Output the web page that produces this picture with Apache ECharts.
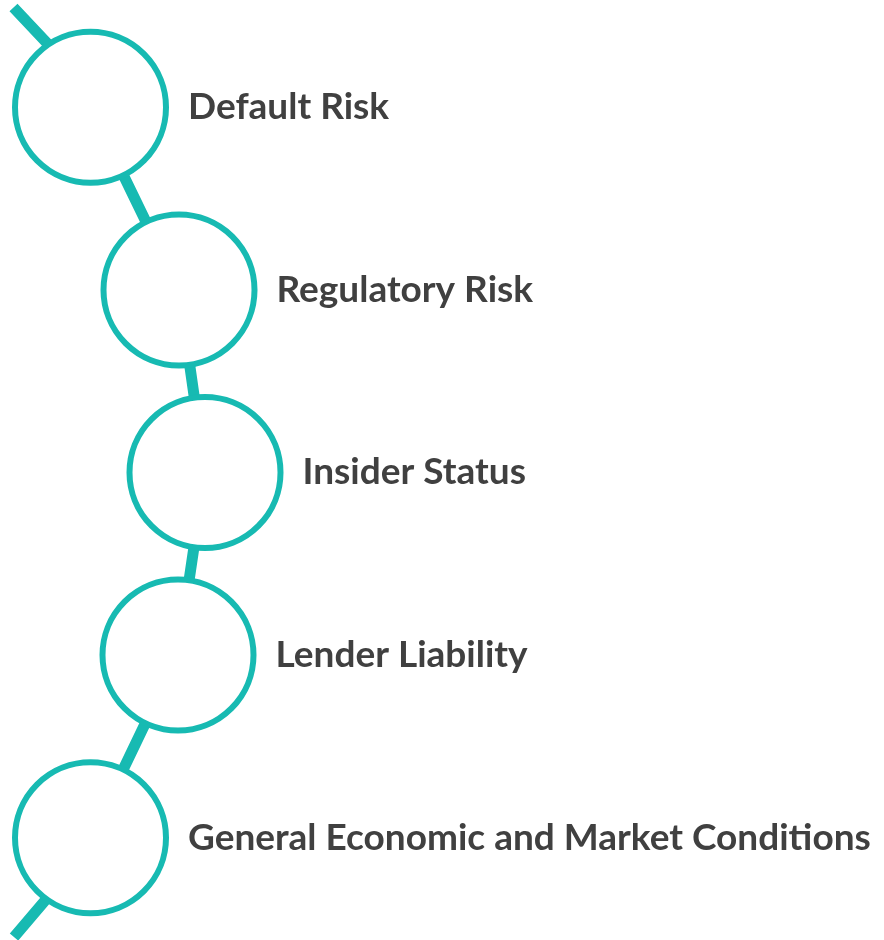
<!DOCTYPE html>
<html>
<head>
<meta charset="utf-8">
<script src="https://cdn.jsdelivr.net/npm/echarts@6/dist/echarts.min.js"></script>
<style>
  html, body { margin: 0; padding: 0; background: #fff; }
  #chart { width: 884px; height: 940px; }
</style>
</head>
<body>
<div id="chart"></div>
<script>
const labels = [
  'Default Risk',
  'Regulatory Risk',
  'Insider Status',
  'Lender Liability',
  'General Economic and Market Conditions',
]
// horizontal indent of each step, step index as vertical position
const indent = [90.5, 179, 205, 178, 90.5]
const steps = [0, 1, 2, 3, 4]
// short tails entering the first node and leaving the last one
const leadIn = [[13.5, -0.547], [62, -0.265]]
const leadOut = [[60, 4.248], [14, 4.544]]

const teal = '#17BAB2'
const textColor = '#404040'

const nodes = steps.map((s, i) => [indent[i], s])
const path = [...leadIn, ...nodes, ...leadOut]

const chart = echarts.init(document.getElementById('chart'), null, { renderer: 'canvas' })

chart.setOption({
  animation: false,
  grid: { left: 0, right: 0, top: 16, bottom: 11 },
  xAxis: { type: 'value', min: 0, max: 884, show: false },
  yAxis: { type: 'value', min: -0.5, max: 4.5, inverse: true, show: false },
  series: [
    {
      type: 'line',
      data: path,
      clip: false,
      showSymbol: false,
      lineStyle: { color: teal, width: 11, cap: 'butt', join: 'round' },
      z: 1,
    },
    {
      type: 'scatter',
      data: nodes,
      symbol: 'circle',
      symbolSize: 151,
      itemStyle: { color: '#fff', borderColor: teal, borderWidth: 6, opacity: 1 },
      label: {
        show: true,
        position: 'right',
        distance: 19,
        formatter: p => labels[p.dataIndex],
        fontFamily: 'Lato',
        fontWeight: 'bold',
        fontSize: 37,
        color: textColor,
      },
      emphasis: { disabled: true },
      z: 2,
    },
  ],
})
</script>
</body>
</html>
